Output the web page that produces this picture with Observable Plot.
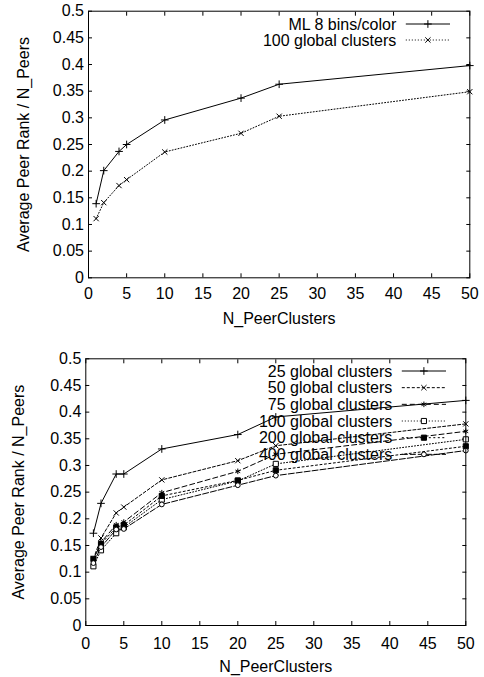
<!DOCTYPE html>
<html>
<head>
<meta charset="utf-8">
<script src="https://cdn.jsdelivr.net/npm/d3@7"></script>
<script src="https://cdn.jsdelivr.net/npm/@observablehq/plot@0.6"></script>
<style>
  html, body { margin: 0; padding: 0; background: #fff; }
  #chart svg { display: block; }
</style>
</head>
<body>
<div id="chart"></div>
<script>
// ---- data ----
const xTicks = [0, 5, 10, 15, 20, 25, 30, 35, 40, 45, 50];
const yTicks = [0, 0.05, 0.1, 0.15, 0.2, 0.25, 0.3, 0.35, 0.4, 0.45, 0.5];
const xLabel = "N_PeerClusters";
const yLabel = "Average Peer Rank / N_Peers";

const peerClusters = [1, 2, 4, 5, 10, 20, 25, 50];

// top chart
const topNames = ["ML 8 bins/color", "100 global clusters"];
const ml8bins   = [0.139, 0.201, 0.237, 0.250, 0.296, 0.337, 0.363, 0.398];
const global100 = [0.111, 0.141, 0.173, 0.184, 0.236, 0.271, 0.303, 0.349];

// bottom chart
const bottomNames = ["25 global clusters", "50 global clusters", "75 global clusters",
                     "100 global clusters", "200 global clusters", "400 global clusters"];
const global25  = [0.173, 0.229, 0.284, 0.284, 0.331, 0.358, 0.391, 0.422];
const global50  = [0.125, 0.164, 0.211, 0.222, 0.273, 0.309, 0.337, 0.378];
const global75  = [0.122, 0.156, 0.189, 0.194, 0.249, 0.289, 0.321, 0.364];
const global200 = [0.125, 0.153, 0.184, 0.188, 0.243, 0.272, 0.291, 0.336];
const global400 = [0.117, 0.147, 0.180, 0.181, 0.227, 0.263, 0.281, 0.328];

// ---- styles ----
const FONT = "'Liberation Sans', Arial, Helvetica, sans-serif";
const styleOf = {
  plus:     {symbol: "plus",     d3sym: d3.symbolPlus,     r: 2.6, fill: "none"},
  times:    {symbol: "times",    d3sym: d3.symbolTimes,    r: 2.5, fill: "none"},
  asterisk: {symbol: "asterisk", d3sym: d3.symbolAsterisk, r: 2.6, fill: "none"},
  square:   {symbol: "square",   d3sym: d3.symbolSquare,   r: 2.9, fill: "white"},
  fsquare:  {symbol: "square",   d3sym: d3.symbolSquare,   r: 2.9, fill: "black"},
  circle:   {symbol: "circle",   d3sym: d3.symbolCircle,   r: 2.4, fill: "white"}
};

function series(name, values, marker, dash) {
  return {name, values, marker, dash};
}

function legendMark(list, geom) {
  return (index, scales, values, dims) => {
    const g = d3.create("svg:g")
      .attr("font-family", FONT)
      .attr("font-size", 16)
      .attr("fill", "black");
    const right = dims.width - dims.marginRight;
    const top = dims.marginTop;
    list.forEach((s, i) => {
      const y = top + geom.first + i * geom.step;
      g.append("text")
        .attr("x", right - geom.textGap)
        .attr("y", y)
        .attr("dy", "0.36em")
        .attr("text-anchor", "end")
        .text(s.name);
      g.append("line")
        .attr("x1", right - geom.lineStart)
        .attr("x2", right - geom.lineEnd)
        .attr("y1", y).attr("y2", y)
        .attr("stroke", "black")
        .attr("stroke-width", 1)
        .attr("stroke-dasharray", s.dash);
      const st = styleOf[s.marker];
      g.append("path")
        .attr("transform", `translate(${right - (geom.lineStart + geom.lineEnd) / 2},${y})`)
        .attr("d", d3.symbol(st.d3sym, Math.PI * st.r * st.r)())
        .attr("fill", st.fill)
        .attr("stroke", "black")
        .attr("stroke-width", 1);
    });
    return g.node();
  };
}

function makeChart(list, opts) {
  const marks = [];
  for (const s of list) {
    const data = peerClusters.map((x, i) => ({x, y: s.values[i]}));
    const st = styleOf[s.marker];
    marks.push(Plot.line(data, {x: "x", y: "y", stroke: "black", strokeWidth: 1, strokeDasharray: s.dash}));
    marks.push(Plot.dot(data, {x: "x", y: "y", symbol: () => st.symbol, r: st.r, stroke: "black", strokeWidth: 1, fill: st.fill}));
  }
  return Plot.plot({
    width: 484,
    height: opts.height,
    marginTop: opts.marginTop,
    marginBottom: opts.marginBottom,
    marginLeft: opts.marginLeft,
    marginRight: opts.marginRight,
    style: {fontFamily: FONT, fontSize: "16px", color: "black", background: "white"},
    x: {domain: [0, 50]},
    y: {domain: [0, 0.5]},
    marks: [
      // tick labels
      Plot.axisY(yTicks, {anchor: "left", tickSize: 0, tickPadding: 4.5, tickFormat: d => String(d), label: null}),
      Plot.axisX(xTicks, {anchor: "bottom", tickSize: 0, tickPadding: opts.xPad, tickFormat: d => String(d), label: null}),
      // inward ticks on all four sides
      Plot.axisX(xTicks, {anchor: "bottom", text: null, tickSize: 4, dy: -4, label: null, stroke: "black"}),
      Plot.axisX(xTicks, {anchor: "top", text: null, tickSize: 4, dy: 4, label: null, stroke: "black"}),
      Plot.axisY(yTicks, {anchor: "left", text: null, tickSize: 4, dx: 4, label: null, stroke: "black"}),
      Plot.axisY(yTicks, {anchor: "right", text: null, tickSize: 4, dx: -4, label: null, stroke: "black"}),
      // axis titles
      Plot.text([yLabel], {frameAnchor: "left", textAnchor: "middle", rotate: -90, lineAnchor: "top", dx: opts.yLabelDx, text: d => d, fill: "black"}),
      Plot.text([xLabel], {frameAnchor: "bottom", textAnchor: "middle", lineAnchor: "top", dy: 35, text: d => d, fill: "black"}),
      ...marks,
      legendMark(list, {first: opts.legendFirst, step: opts.legendStep, textGap: 73, lineStart: 63.5, lineEnd: 19.3}),
      Plot.frame({stroke: "black", strokeWidth: 1})
    ]
  });
}

const topSeries = [
  series(topNames[0], ml8bins, "plus", null),
  series(topNames[1], global100, "times", "1,2")
];
const bottomSeries = [
  series(bottomNames[0], global25, "plus", null),
  series(bottomNames[1], global50, "times", "3,2"),
  series(bottomNames[2], global75, "asterisk", "5,3"),
  series(bottomNames[3], global100, "square", "1,2"),
  series(bottomNames[4], global200, "fsquare", "2,2.5"),
  series(bottomNames[5], global400, "circle", "6,2")
];

const el = document.getElementById("chart");
el.append(makeChart(topSeries, {
  height: 330, marginTop: 10.7, marginBottom: 52.7, marginLeft: 88, marginRight: 14.7,
  xPad: 10, yLabelDx: -71.3, legendFirst: 13.3, legendStep: 16
}));
el.append(makeChart(bottomSeries, {
  height: 347, marginTop: 28.3, marginBottom: 52, marginLeft: 85.3, marginRight: 18.7,
  xPad: 12, yLabelDx: -73.6, legendFirst: 12.7, legendStep: 16.67
}));
</script>
</body>
</html>
